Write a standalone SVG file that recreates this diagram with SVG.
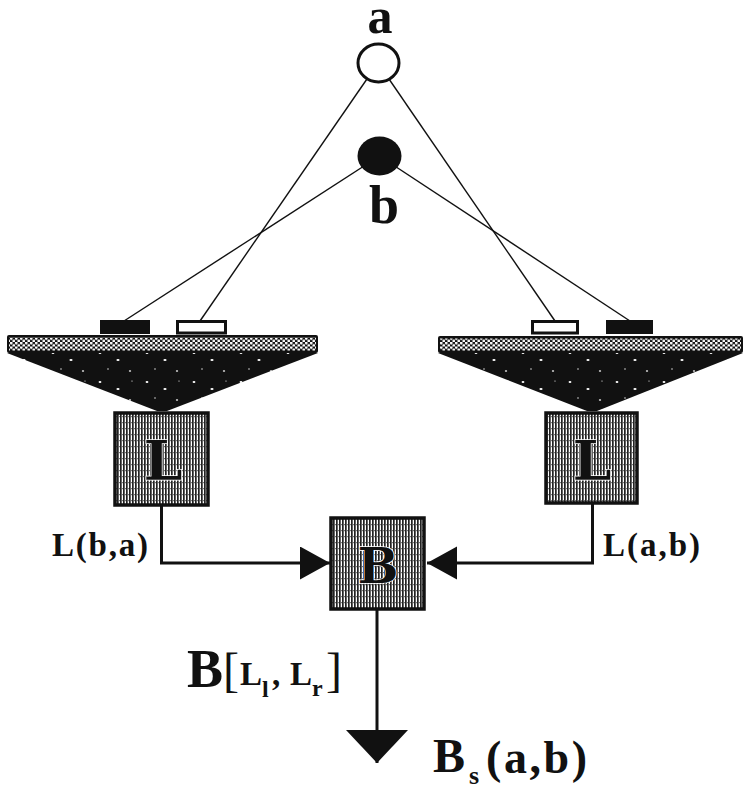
<svg xmlns="http://www.w3.org/2000/svg" width="745" height="789" viewBox="0 0 745 789">
<style>
.t{font-family:"Liberation Serif","Times New Roman",serif;font-weight:bold;fill:#111}
.n{font-family:"Liberation Serif","Times New Roman",serif;font-weight:normal;fill:#111}
.thin{stroke:#111;stroke-width:1.4;fill:none}
.conn{stroke:#111;stroke-width:3;fill:none}
.box{stroke:#111;stroke-width:3.5;fill:url(#hatch)}
.boxL{font-family:"DejaVu Serif","Liberation Serif",serif;font-weight:bold;fill:#111;stroke:#fff;stroke-width:1.5;paint-order:stroke}
</style>
<defs>
<pattern id="hatch" width="3" height="6" patternUnits="userSpaceOnUse">
<rect width="3" height="6" fill="#fff"/>
<rect x="0" y="0" width="1.7" height="6" fill="#222"/>
<rect x="2" y="2" width="0.6" height="1.2" fill="#222"/>
</pattern>
<pattern id="dots" width="5" height="4.5" patternUnits="userSpaceOnUse">
<rect width="5" height="4.5" fill="#111"/>
<circle cx="1.25" cy="1.1" r="1.4" fill="#fff"/>
<circle cx="3.75" cy="3.35" r="1.4" fill="#fff"/>
</pattern>
<pattern id="speck" width="47" height="29" patternUnits="userSpaceOnUse">
<rect width="47" height="29" fill="#111"/>
<ellipse cx="6" cy="5" rx="1.4" ry="0.9" fill="#fff"/>
<ellipse cx="24" cy="12" rx="1.6" ry="1" fill="#fff"/>
<circle cx="38" cy="4" r="0.6" fill="#fff"/>
<circle cx="14" cy="21" r="0.7" fill="#fff"/>
<ellipse cx="36" cy="23" rx="1.2" ry="0.8" fill="#fff"/>
</pattern>
<marker id="arr" markerUnits="userSpaceOnUse" markerWidth="31" markerHeight="34" refX="30" refY="16.5" orient="auto">
<path d="M0,0 L30,16.5 L0,33 z" fill="#111"/>
</marker>
<marker id="arrBig" markerUnits="userSpaceOnUse" markerWidth="34" markerHeight="64" refX="33" refY="31" orient="auto">
<path d="M0,0 L33,31 L0,62 z" fill="#111"/>
</marker>
</defs>
<rect width="745" height="789" fill="#fff"/>

<g id="rays">
<line class="thin" x1="378" y1="63" x2="200" y2="321"/>
<line class="thin" x1="378" y1="63" x2="555" y2="321"/>
<line class="thin" x1="379.5" y1="156" x2="124" y2="321"/>
<line class="thin" x1="379.5" y1="156" x2="630" y2="321"/>
</g>

<g id="node-a">
<ellipse cx="378.5" cy="63" rx="20.5" ry="19" fill="#fff" stroke="#111" stroke-width="3"/>
<text class="t" x="380" y="33" font-size="50" text-anchor="middle">a</text>
</g>
<g id="node-b">
<ellipse cx="379.5" cy="156" rx="22" ry="19.5" fill="#111"/>
<text class="t" x="384" y="223" font-size="54" text-anchor="middle">b</text>
</g>

<g id="platform-left">
<rect x="100" y="320" width="50" height="14" fill="#111"/>
<rect x="177.5" y="321.5" width="48" height="11.5" fill="#fff" stroke="#111" stroke-width="3"/>
<path d="M7,353 L318,353 L167,411 L157,411 z" fill="url(#speck)"/>
<rect x="7" y="335" width="311" height="18" rx="2" fill="#111"/>
<rect x="9" y="337.5" width="307" height="13" fill="url(#dots)"/>
</g>
<g id="platform-right">
<rect x="532.5" y="321.5" width="45" height="11.5" fill="#fff" stroke="#111" stroke-width="3"/>
<rect x="606" y="320" width="47" height="14" fill="#111"/>
<path d="M438,353 L743,353 L597,411 L587,411 z" fill="url(#speck)"/>
<rect x="438" y="336" width="305" height="17" rx="2" fill="#111"/>
<rect x="440" y="338.5" width="301" height="12" fill="url(#dots)"/>
</g>

<g id="connectors">
<polyline class="conn" points="161.5,505 161.5,563 330,563" marker-end="url(#arr)"/>
<polyline class="conn" points="592.5,503 592.5,563 427,563" marker-end="url(#arr)"/>
<line class="conn" x1="377" y1="610" x2="377" y2="763" marker-end="url(#arrBig)"/>
</g>

<g id="node-L-left">
<rect class="box" x="115" y="413" width="93" height="92"/>
<text class="boxL" x="163" y="480" font-size="55" text-anchor="middle">L</text>
</g>
<g id="node-L-right">
<rect class="box" x="546" y="413" width="91" height="90"/>
<text class="boxL" x="592" y="480" font-size="55" text-anchor="middle">L</text>
</g>
<g id="node-B">
<rect class="box" x="331" y="518" width="93" height="91"/>
<text class="boxL" x="378" y="583" font-size="48" text-anchor="middle">B</text>
</g>

<g id="labels">
<text class="t" x="52" y="556" font-size="33" textLength="96" lengthAdjust="spacing">L(b,a)</text>
<text class="t" x="603" y="556" font-size="33" textLength="97" lengthAdjust="spacing">L(a,b)</text>
<text class="t" x="187" y="687" font-size="54">B</text>
<text class="n" x="223" y="686" font-size="48">[</text>
<text class="t" x="240" y="685" font-size="33">L</text>
<text class="t" x="262" y="697" font-size="24">l</text>
<text class="t" x="272" y="685" font-size="33">,</text>
<text class="t" x="290" y="685" font-size="33">L</text>
<text class="t" x="312" y="696" font-size="24">r</text>
<text class="n" x="326" y="686" font-size="48">]</text>
<text class="t" x="433" y="772" font-size="48">B</text>
<text class="t" x="469" y="784" font-size="26">s</text>
<text class="t" x="486" y="773" font-size="46" textLength="101" lengthAdjust="spacing">(a,b)</text>
</g>
</svg>
